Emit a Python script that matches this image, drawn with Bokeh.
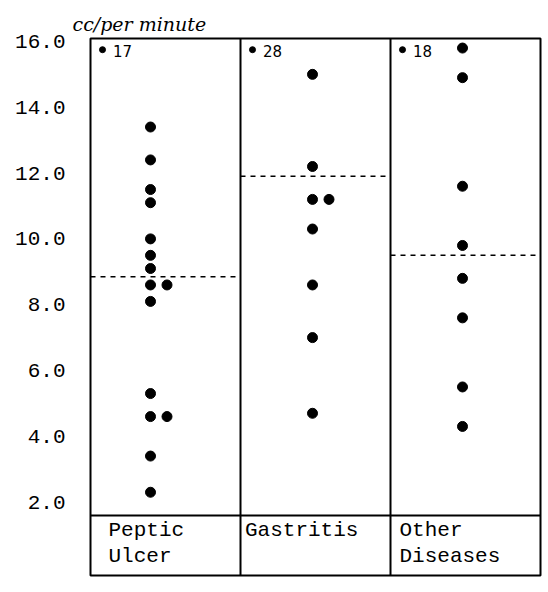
from bokeh.plotting import figure
from bokeh.models import Range1d, FixedTicker
from bokeh.core.properties import value
from bokeh.embed import file_html
from bokeh.resources import INLINE

# ---- data ----
categories = ["Peptic\nUlcer", "Gastritis", "Other\nDiseases"]
peptic_ulcer = [13.4, 12.4, 11.5, 11.1, 10.0, 9.5, 9.1, 8.6, 8.6, 8.1, 5.3, 4.6, 4.6, 3.4, 2.3]
gastritis = [15.0, 12.2, 11.2, 11.2, 10.3, 8.6, 7.0, 4.7]
other_diseases = [15.8, 14.9, 11.6, 9.8, 8.8, 7.6, 5.5, 4.3]
off_scale = [17, 28, 18]          # values above the scale, written at the top
group_means = [8.85, 11.9, 9.5]   # dashed lines
y_ticks = [2, 4, 6, 8, 10, 12, 14, 16]
y_unit = "cc/per minute"

groups = [peptic_ulcer, gastritis, other_diseases]

# ---- layout constants ----
col_center = [0.40, 0.48, 0.48]
label_offset = [0.12, 0.03, 0.06]
dup_shift = 0.11
Y_TOP = 16.09
Y_SPLIT = 1.59
Y_BOTTOM = -0.23

p = figure(width=544, height=586, output_backend="svg", toolbar_location=None,
           x_range=Range1d(0, 3), y_range=Range1d(Y_BOTTOM, Y_TOP),
           min_border_left=90, min_border_right=4, min_border_top=38,
           min_border_bottom=11)
p.background_fill_color = "white"
p.border_fill_color = "white"
p.outline_line_color = "black"
p.outline_line_width = 2
p.xgrid.visible = False
p.ygrid.visible = False
p.xaxis.visible = False

p.title.text = y_unit
p.title.align = "left"
p.title.offset = -18
p.title.text_font = "DejaVu Serif"
p.title.text_font_style = "italic"
p.title.text_font_size = "19px"
p.title.text_color = "black"
p.title.standoff = 8

ax = p.yaxis[0]
ax.ticker = FixedTicker(ticks=y_ticks)
ax.major_label_overrides = {t: f"{t:.1f}" for t in y_ticks}
ax.axis_line_color = None
ax.major_tick_line_color = None
ax.minor_tick_line_color = None
ax.major_tick_out = 0
ax.major_label_standoff = 25
ax.major_label_text_font = "Liberation Mono"
ax.major_label_text_font_size = "21px"
ax.major_label_text_color = "black"

# dividers
p.segment(x0=[1, 2], y0=[Y_BOTTOM] * 2, x1=[1, 2], y1=[Y_TOP] * 2,
          line_color="black", line_width=2)
p.segment(x0=[0], y0=[Y_SPLIT], x1=[3], y1=[Y_SPLIT],
          line_color="black", line_width=2)

# points
xs, ys = [], []
for i, g in enumerate(groups):
    seen = {}
    for v in g:
        k = seen.get(v, 0)
        seen[v] = k + 1
        xs.append(i + col_center[i] + dup_shift * k)
        ys.append(v)
p.scatter(x=xs, y=ys, size=10, color="black")

# mean lines
p.segment(x0=[i for i in range(3)], y0=group_means,
          x1=[i + 1 for i in range(3)], y1=group_means,
          line_color="black", line_width=1.5, line_dash="5 5")

# off-scale values
p.scatter(x=[i + 0.08 for i in range(3)], y=[15.75] * 3, size=6, color="black")
p.text(x=[i + 0.15 for i in range(3)], y=[15.72] * 3, text=[str(v) for v in off_scale],
       text_font=value("DejaVu Sans"), text_font_size="15px",
       text_baseline="middle", text_align="left", text_color="black")

# category labels
p.text(x=[i + label_offset[i] for i in range(3)], y=[1.49] * 3, text=categories,
       text_font=value("Liberation Mono"), text_font_size="21px",
       text_baseline="top", text_align="left", text_color="black",
       text_line_height=1.15)

open("out.html", "w").write(file_html(p, INLINE))
